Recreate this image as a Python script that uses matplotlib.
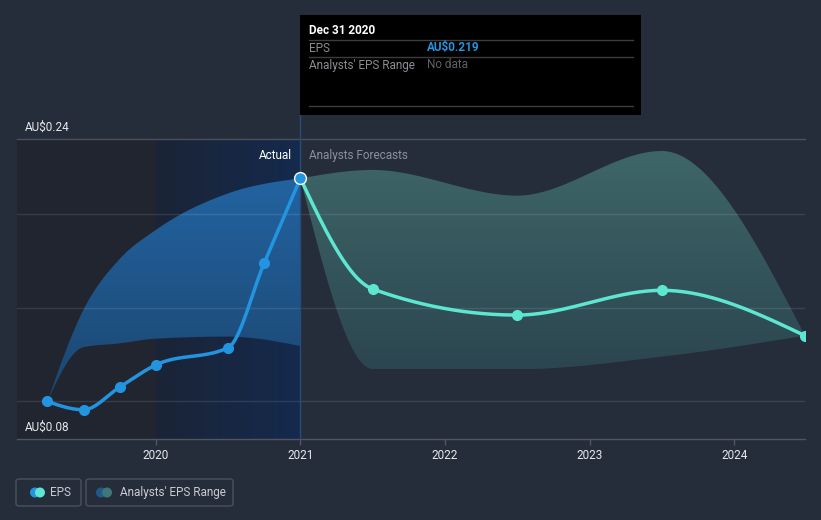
import numpy as np
import matplotlib
matplotlib.use('Agg')
import matplotlib.pyplot as plt
import matplotlib.transforms as mtransforms
from matplotlib.colors import LinearSegmentedColormap
from matplotlib.patches import Rectangle, FancyBboxPatch, Ellipse
from matplotlib.lines import Line2D

plt.rcParams['font.family'] = ['Roboto', 'DejaVu Sans']

# --- data ---
actual_x = [2019.25, 2019.5, 2019.75, 2020.0, 2020.5, 2020.75, 2021.0]
actual_eps = [0.100, 0.0956, 0.1077, 0.1195, 0.1287, 0.1739, 0.219]

forecast_x = [2021.0, 2021.5, 2022.5, 2023.5, 2024.49]
forecast_eps = [0.219, 0.160, 0.1461, 0.1593, 0.1351]

past_range_x = [2019.25, 2019.5, 2019.75, 2020.0, 2020.5, 2021.0]
past_hi = [0.100, 0.149, 0.176, 0.1915, 0.211, 0.219]
past_lo = [0.100, 0.129, 0.131, 0.1335, 0.1346, 0.1296]

fc_range_x = [2021.0, 2021.5, 2022.5, 2023.5, 2024.49]
fc_hi = [0.219, 0.2235, 0.2098, 0.2336, 0.1351]
fc_lo = [0.219, 0.1173, 0.1172, 0.1239, 0.1351]

year_ticks = [2020, 2021, 2022, 2023, 2024]
grid_vals = [0.10, 0.15, 0.20]
y_min, y_max = 0.08, 0.24
x_min, x_max = 2019.04, 2024.49

BG = '#262d3a'
W, H = 821, 520


def fx(px):
    return px / W


def fy(py):
    return 1 - py / H


def monotone(xs, ys, n=60):
    # monotone cubic (same idea as d3 curveMonotoneX)
    x = np.asarray(xs, float)
    y = np.asarray(ys, float)
    h = np.diff(x)
    s = np.diff(y) / h
    m = np.zeros_like(x)
    for i in range(1, len(x) - 1):
        p = (s[i - 1] * h[i] + s[i] * h[i - 1]) / (h[i - 1] + h[i])
        m[i] = (np.sign(s[i - 1]) + np.sign(s[i])) * min(abs(s[i - 1]), abs(s[i]), 0.5 * abs(p))
    m[0] = (3 * s[0] - m[1]) / 2
    m[-1] = (3 * s[-1] - m[-2]) / 2
    out_x, out_y = [], []
    for i in range(len(x) - 1):
        t = np.linspace(0, 1, n)
        h00 = 2 * t**3 - 3 * t**2 + 1
        h10 = t**3 - 2 * t**2 + t
        h01 = -2 * t**3 + 3 * t**2
        h11 = t**3 - t**2
        yy = h00 * y[i] + h10 * h[i] * m[i] + h01 * y[i + 1] + h11 * h[i] * m[i + 1]
        out_x.append(x[i] + t * h[i])
        out_y.append(yy)
    return np.concatenate(out_x), np.concatenate(out_y)


def gradient_band(ax, xs, lo, hi, c_top, c_bot, z):
    gx, ghi = monotone(xs, hi)
    _, glo = monotone(xs, lo)
    poly = ax.fill_between(gx, glo, ghi, facecolor='none', edgecolor='none')
    cmap = LinearSegmentedColormap.from_list('band', [c_bot, c_top])
    im = ax.imshow(np.linspace(0, 1, 64).reshape(-1, 1), cmap=cmap, aspect='auto',
                   origin='lower', extent=[xs[0], xs[-1], min(lo), max(hi)],
                   zorder=z, interpolation='bilinear')
    im.set_clip_path(poly.get_paths()[0], transform=ax.transData)


fig = plt.figure(figsize=(8.21, 5.2), dpi=100, facecolor=BG)
ax = fig.add_axes([fx(17), fy(439), fx(805) - fx(17), fy(139) - fy(439)])
ax.set_facecolor(BG)

# past shading
ax.axvspan(x_min, 2020, color='#21252f', zorder=0, lw=0)
hl = LinearSegmentedColormap.from_list('hl', ['#1b2437', '#142a4d'])
ax.imshow(np.linspace(0, 1, 32).reshape(1, -1), cmap=hl, aspect='auto',
          extent=[2020, 2021, y_min, y_max], zorder=0.5, interpolation='bilinear')

# ranges
gradient_band(ax, past_range_x, past_lo, past_hi, '#2263a0', '#1c4670', 1)
gradient_band(ax, fc_range_x, fc_lo, fc_hi, '#3e6668', '#2c4650', 1)

# grid lines
for g in grid_vals:
    ax.axhline(g, color='#ffffff', alpha=0.1, lw=1, zorder=2)
ax.axhline(y_max, color='#4a515c', lw=1, zorder=2, clip_on=False)

# divider between actual and forecast
ax.plot([2021, 2021], [y_min, 0.2528], color='#284a7c', lw=1, zorder=2, clip_on=False)

# EPS lines
ax_x, ax_y = monotone(actual_x, actual_eps)
ax.plot(ax_x, ax_y, color='#2394e0', lw=2.5, zorder=4, solid_capstyle='round')
ax.plot(actual_x[:-1], actual_eps[:-1], 'o', color='#2394e0', ms=7, zorder=5)
fx_x, fx_y = monotone(forecast_x, forecast_eps)
ax.plot(fx_x, fx_y, color='#5de6d0', lw=2.5, zorder=4, solid_capstyle='round')
ax.plot(forecast_x[1:], forecast_eps[1:], 'o', color='#5de6d0', ms=7, zorder=5)
ax.plot([actual_x[-1]], [actual_eps[-1]], 'o', color='#2394e0', ms=8.5,
        markeredgecolor='white', markeredgewidth=1, zorder=6, clip_on=False)

ax.set_xlim(x_min, x_max)
ax.set_ylim(y_min, y_max)

for sp in ['top', 'right', 'left']:
    ax.spines[sp].set_visible(False)
ax.spines['bottom'].set_color('#4f5662')
ax.spines['bottom'].set_linewidth(1)
ax.set_yticks([])
ax.set_xticks(year_ticks)
ax.set_xticklabels([str(y) for y in year_ticks])
ax.tick_params(axis='x', colors='#4f5662', labelcolor='#e6e8eb', length=4,
               width=1, labelsize=8.5, pad=3)

# y labels
ytr = mtransforms.blended_transform_factory(ax.transAxes, ax.transData)
ax.annotate('AU$0.24', xy=(0.0102, y_max), xycoords=ytr, xytext=(0, 4),
            textcoords='offset points', va='bottom', ha='left', color='#e6e8eb', fontsize=8.5)
ax.annotate('AU$0.08', xy=(0.0102, y_min), xycoords=ytr, xytext=(0, 4),
            textcoords='offset points', va='bottom', ha='left', color='#e6e8eb', fontsize=8.5)

# Actual / forecast labels
ax.annotate('Actual', xy=(2021, y_max), xytext=(-6, -12), textcoords='offset points',
            ha='right', va='center', color='#ffffff', fontsize=8.5)
ax.annotate('Analysts Forecasts', xy=(2021, y_max), xytext=(6, -12), textcoords='offset points',
            ha='left', va='center', color='#8b9099', fontsize=8.5)

# tooltip
fig.patches.append(Rectangle((fx(300), fy(115)), fx(641) - fx(300), fy(15) - fy(115),
                             transform=fig.transFigure, facecolor='#000000', edgecolor='none', zorder=10))
for ly in [40, 57, 106]:
    fig.lines.append(Line2D([fx(309), fx(633)], [fy(ly), fy(ly)], transform=fig.transFigure,
                            color='#3d3d3d', lw=1, zorder=11))
fig.text(fx(309), fy(31), 'Dec 31 2020', color='white', fontsize=8.5, fontweight='bold',
         va='center', ha='left', zorder=12)
fig.text(fx(309), fy(48), 'EPS', color='#8a8d92', fontsize=8.5, va='center', zorder=12)
fig.text(fx(427), fy(48), 'AU$0.219', color='#2394e0', fontsize=8.5, fontweight='bold',
         va='center', zorder=12)
fig.text(fx(309), fy(65), "Analysts' EPS Range", color='#8a8d92', fontsize=8.5, va='center', zorder=12)
fig.text(fx(427), fy(65), 'No data', color='#5e6166', fontsize=8.5, va='center', zorder=12)

# legend
for (x0, x1) in [(16, 81), (86, 233)]:
    fig.patches.append(FancyBboxPatch((fx(x0), fy(506)), fx(x1) - fx(x0), fy(479) - fy(506),
                                      boxstyle='round,pad=0,rounding_size=0.004',
                                      transform=fig.transFigure, facecolor='none',
                                      edgecolor='#4a515c', lw=1))
for cx, col in [(35, '#2394e0'), (40, '#5de6d0'), (101, '#1f5a8a'), (107, '#3d7777')]:
    fig.patches.append(Ellipse((fx(cx), fy(492.5)), 10 / W, 10 / H, transform=fig.transFigure,
                               facecolor=col, edgecolor='none'))
fig.text(fx(50), fy(492.5), 'EPS', color='#c8ccd2', fontsize=8.5, va='center')
fig.text(fx(120), fy(492.5), "Analysts' EPS Range", color='#c8ccd2', fontsize=8.5, va='center')

fig.savefig('out.png', dpi=100, facecolor=BG)
